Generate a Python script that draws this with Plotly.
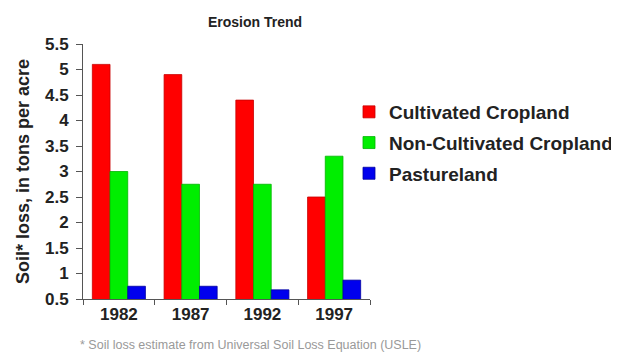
import plotly.graph_objects as go

years = ["1982", "1987", "1992", "1997"]
cultivated = [5.1, 4.9, 4.4, 2.5]
non_cultivated = [3.0, 2.75, 2.75, 3.3]
pastureland = [0.75, 0.75, 0.68, 0.87]
y_ticks = [0.5, 1, 1.5, 2, 2.5, 3, 3.5, 4, 4.5, 5, 5.5]
y_tick_labels = ["0.5", "1", "1.5", "2", "2.5", "3", "3.5", "4", "4.5", "5", "5.5"]

FONT = "Liberation Sans, Arial, sans-serif"
# the page has an 8px body margin; the figure is sized to fill the rest
W, H = 611, 347
L, R, T, B = 75, 249, 36, 56
PW, PH = W - L - R, H - T - B

fig = go.Figure()
series = [
    ("Cultivated Cropland", cultivated, "#ff0000", "#c80000"),
    ("Non-Cultivated Cropland", non_cultivated, "#00ee00", "#00b400"),
    ("Pastureland", pastureland, "#0000ee", "#0000a0"),
]
for name, vals, col, edge in series:
    fig.add_trace(go.Bar(
        x=years, y=vals, name=name, legendgroup=name,
        marker=dict(color=col, line=dict(color=edge, width=0.8)),
    ))

fig.update_layout(
    width=W, height=H,
    margin=dict(l=L, r=R, t=T, b=B, autoexpand=False),
    paper_bgcolor="white", plot_bgcolor="white",
    barmode="group", bargap=0.26, bargroupgap=0,
    font=dict(family=FONT, color="#222"),
    title=dict(text="<b>Erosion Trend</b>", x=247/W, xanchor="center",
               y=1-14/H, yanchor="middle", font=dict(size=14, color="#222")),
    legend=dict(xref="container", yref="container", x=341/W, y=1-85/H,
                xanchor="left", yanchor="top", traceorder="grouped",
                tracegroupgap=3, font=dict(size=19, color="#222", weight="bold"),
                bgcolor="rgba(0,0,0,0)"),
    showlegend=True,
)
fig.update_xaxes(
    type="category", tickson="boundaries", ticks="outside", ticklen=5,
    tickcolor="#555", showline=True, linecolor="#555", linewidth=1,
    showgrid=False, automargin=False,
    tickfont=dict(size=17, color="#222", weight="bold"),
)
fig.update_yaxes(
    range=[0.5, 5.5], tickvals=y_ticks, ticktext=y_tick_labels,
    ticks="outside", ticklen=6, tickcolor="#555", showline=True,
    linecolor="#555", linewidth=1, showgrid=False, zeroline=False,
    automargin=False, ticklabelstandoff=4,
    tickfont=dict(size=17, color="#222", weight="bold"),
    title=dict(text="<b>Soil* loss, in tons per acre</b>", standoff=10,
               font=dict(size=18, color="#222")),
)
fig.add_annotation(
    text="* Soil loss estimate from Universal Soil Loss Equation (USLE)",
    xref="paper", yref="paper", x=(70 - L) / PW, y=(H - B - 337) / PH,
    xanchor="left", yanchor="middle",
    showarrow=False, font=dict(size=12.5, color="#999", family=FONT),
)
fig.write_html("out.html")
